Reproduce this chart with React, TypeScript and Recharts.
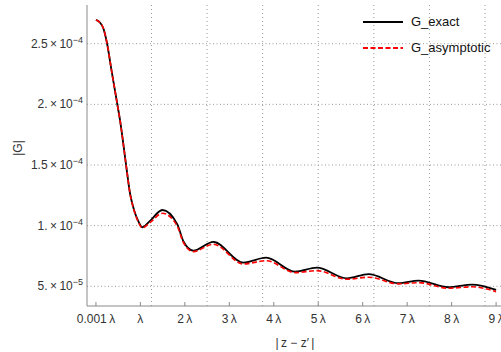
// |G| vs |z - z'| — exact vs asymptotic Green's function magnitude.
// Mathematica-style frame: dotted grid, inward ticks, superscript tick labels.
import { Legend, Line, LineChart, ReferenceLine, XAxis, YAxis } from 'recharts';

// distance in wavelengths
const X_LAMBDA = [
  0.001, 0.095, 0.167, 0.25, 0.356, 0.482, 0.542, 0.677, 0.767, 0.858, 0.941, 1.044, 1.217, 1.494,
  1.832, 1.967, 2.19, 2.642, 3.318, 3.829, 4.481, 4.97, 5.645, 6.131, 6.806, 7.256, 7.932, 8.458, 9.0,
];
const G_EXACT = [
  2.696e-4, 2.673e-4, 2.627e-4, 2.504e-4, 2.27e-4, 2.001e-4, 1.871e-4, 1.506e-4, 1.267e-4, 1.129e-4,
  1.047e-4, 0.987e-4, 1.039e-4, 1.129e-4, 1.01e-4, 0.871e-4, 0.794e-4, 0.866e-4, 0.695e-4, 0.736e-4,
  0.621e-4, 0.654e-4, 0.566e-4, 0.6e-4, 0.525e-4, 0.547e-4, 0.492e-4, 0.514e-4, 0.471e-4,
];
const G_ASYMPTOTIC = [
  2.696e-4, 2.673e-4, 2.627e-4, 2.504e-4, 2.27e-4, 2.0e-4, 1.87e-4, 1.505e-4, 1.265e-4, 1.125e-4,
  1.04e-4, 0.982e-4, 1.025e-4, 1.102e-4, 0.995e-4, 0.862e-4, 0.786e-4, 0.847e-4, 0.684e-4, 0.711e-4,
  0.613e-4, 0.629e-4, 0.558e-4, 0.575e-4, 0.52e-4, 0.53e-4, 0.484e-4, 0.496e-4, 0.456e-4,
];

const X_TICKS = [0.001, 1, 2, 3, 4, 5, 6, 7, 8, 9];
const X_TICK_LABELS = ['0.001\u2009λ', 'λ', '2\u2009λ', '3\u2009λ', '4\u2009λ', '5\u2009λ', '6\u2009λ', '7\u2009λ', '8\u2009λ', '9\u2009λ'];
const X_GRID = [1.25, 2.5, 3.75, 5, 6.25, 7.5, 8.75];

const Y_TICKS = [5e-5, 1e-4, 1.5e-4, 2e-4, 2.5e-4];
const Y_MANTISSA = ['5.', '1.', '1.5', '2.', '2.5'];
const Y_EXPONENT = ['−5', '−4', '−4', '−4', '−4'];

const data = X_LAMBDA.map((x, i) => ({ x, exact: G_EXACT[i], asym: G_ASYMPTOTIC[i] }));

const FONT = '"Liberation Sans", Arial, sans-serif';
const AXIS = '#8a8a8a';
const TEXT = '#333';

function XTick({ x, y, payload }: any) {
  const i = X_TICKS.indexOf(payload.value);
  return (
    <g>
      <line x1={x} x2={x} y1={y - 4} y2={y} stroke={AXIS} />
      <text x={x} y={y + 17} textAnchor="middle" fontSize={12} fill={TEXT} fontFamily={FONT}>
        {X_TICK_LABELS[i]}
      </text>
    </g>
  );
}

function YTick({ x, y, payload }: any) {
  const i = Y_TICKS.indexOf(payload.value);
  return (
    <text x={x - 4} y={y + 4} textAnchor="end" fontSize={12} fill={TEXT} fontFamily={FONT}>
      {Y_MANTISSA[i]}
      <tspan>{'\u2009×\u200910'}</tspan>
      <tspan dy={-5} fontSize={9}>
        {Y_EXPONENT[i]}
      </tspan>
    </text>
  );
}

const SERIES = [
  { name: 'G_exact', color: '#000', dash: undefined },
  { name: 'G_asymptotic', color: '#f00', dash: '5 2.5' },
];

function LegendBox() {
  return (
    <div style={{ fontFamily: FONT, fontSize: 13, color: '#111' }}>
      {SERIES.map((s) => (
        <div key={s.name} style={{ display: 'flex', alignItems: 'center', height: 25.7 }}>
          <svg width={40} height={4} style={{ display: 'block' }}>
            <line x1={0} x2={40} y1={2} y2={2} stroke={s.color} strokeWidth={2} strokeDasharray={s.dash} />
          </svg>
          <span style={{ marginLeft: 8 }}>{s.name}</span>
        </div>
      ))}
    </div>
  );
}

export default function App() {
  return (
    <div style={{ position: 'fixed', left: 0, top: 0, width: 501, height: 352, overflow: 'hidden', background: '#fff' }}>
      <LineChart width={505} height={352} data={data} margin={{ top: 5, right: 0, bottom: 0, left: 0 }}>
        <XAxis
          xAxisId="top"
          orientation="top"
          dataKey="x"
          type="number"
          domain={[-0.2, 9.2]}
          height={0}
          tick={false}
          tickLine={false}
          axisLine={{ stroke: '#c4c4c4' }}
        />
        <XAxis
          dataKey="x"
          type="number"
          domain={[-0.2, 9.2]}
          ticks={X_TICKS}
          allowDataOverflow
          height={46}
          tickSize={0}
          tickMargin={0}
          tickLine={false}
          axisLine={{ stroke: AXIS }}
          tick={<XTick />}
          interval={0}
          label={{
            content: ({ viewBox }: any) => (
              <text
                x={viewBox.x + viewBox.width / 2 - 1}
                y={347}
                textAnchor="middle"
                fontSize={12}
                fill={TEXT}
                fontFamily={FONT}
              >
                {'|\u2009z − z′\u2009|'}
              </text>
            ),
          }}
        />
        <YAxis
          type="number"
          domain={[3.376e-5, 2.819e-4]}
          ticks={Y_TICKS}
          allowDataOverflow
          width={87}
          tickSize={0}
          tickMargin={0}
          tickLine={false}
          axisLine={{ stroke: AXIS }}
          tick={<YTick />}
          interval={0}
          label={{
            content: () => (
              <text
                x={22}
                y={148}
                transform="rotate(-90 22 148)"
                textAnchor="middle"
                fontSize={12}
                fill={TEXT}
                fontFamily={FONT}
              >
                |G|
              </text>
            ),
          }}
        />
        {X_GRID.map((v) => (
          <ReferenceLine key={`gx${v}`} x={v} stroke="#999" strokeDasharray="1 3" />
        ))}
        {Y_TICKS.map((v) => (
          <ReferenceLine key={`gy${v}`} y={v} stroke="#999" strokeDasharray="1 2.5" />
        ))}
        <Legend
          layout="vertical"
          align="center"
          verticalAlign="middle"
          wrapperStyle={{ left: 363, top: 9, width: 140 }}
          content={<LegendBox />}
        />
        <Line
          type="monotone"
          dataKey="exact"
          name="G_exact"
          stroke="#000"
          strokeWidth={1.8}
          dot={false}
          activeDot={false}
          isAnimationActive={false}
        />
        <Line
          type="monotone"
          dataKey="asym"
          name="G_asymptotic"
          stroke="#f00"
          strokeWidth={1.6}
          strokeDasharray="5 2.5"
          dot={false}
          activeDot={false}
          isAnimationActive={false}
        />
      </LineChart>
    </div>
  );
}
